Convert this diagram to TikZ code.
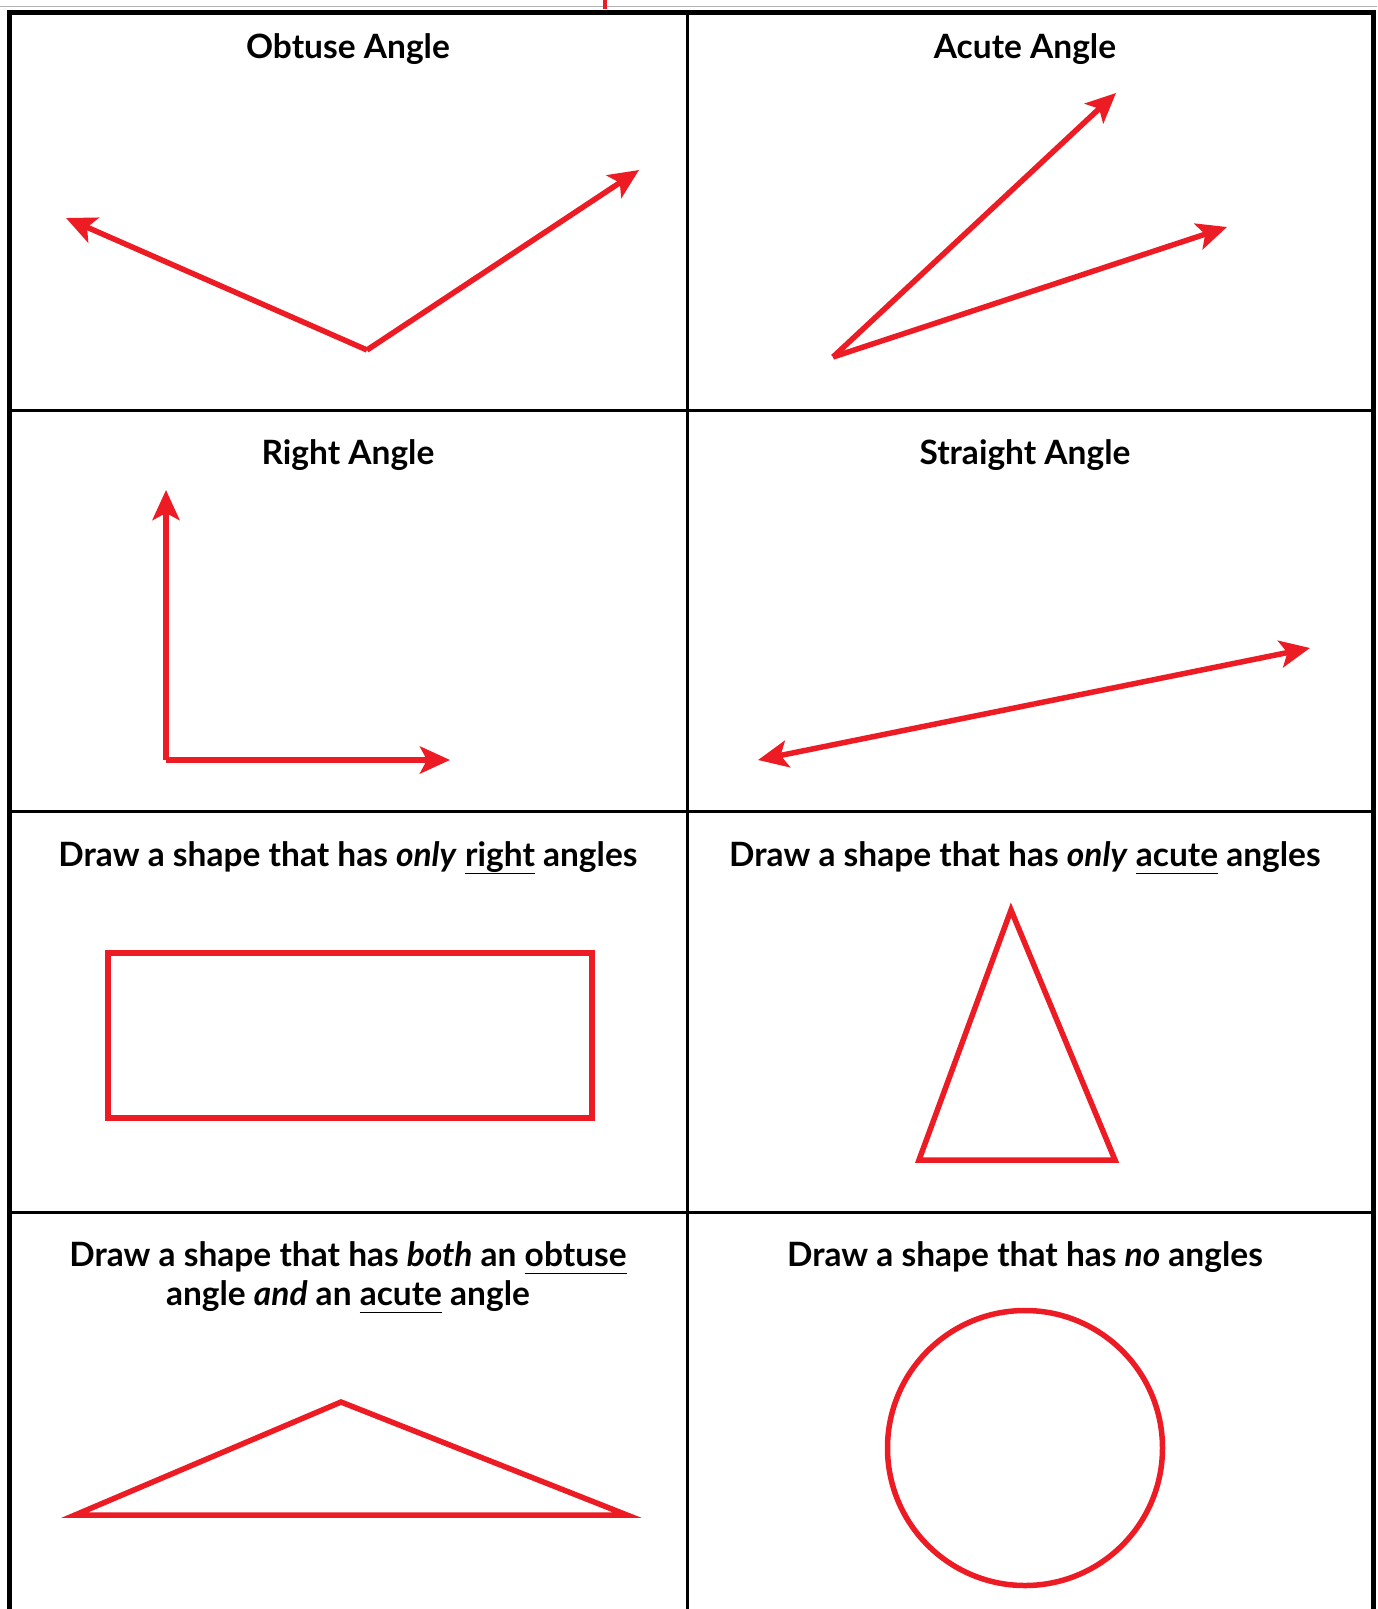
\documentclass[tikz,border=0pt]{standalone}
\usepackage{fontspec}
\setmainfont{Lato}[BoldFont={* Bold}]
\usetikzlibrary{arrows.meta}
\definecolor{angred}{HTML}{ED1C24}
\newcommand\myul[1]{\underline{\smash{#1}\vphantom{g}}}
\begin{document}
\begin{tikzpicture}[x=1pt,y=-1pt,
  grid/.style={black,line width=3pt},
  frame/.style={black,line width=5pt},
  redline/.style={angred,line width=5.5pt,line join=miter},
  arr/.style={redline,-{Stealth[length=30pt,width=27pt,inset=7pt]}},
  title/.style={font=\fontsize{33.5}{39}\selectfont\bfseries,align=center,anchor=base}]
\useasboundingbox (0,0) rectangle (1377,1609);
\fill[white] (0,0) rectangle (1377,1609);
% top faint line and red tick
\draw[gray!60,line width=1pt] (0,6) -- (1377,6);
\draw[angred,line width=4pt] (605,0) -- (605,9);
% grid
\draw[grid] (687,12) -- (687,1609);
\draw[grid] (9,410) -- (1373,410);
\draw[grid] (9,811) -- (1373,811);
\draw[grid] (9,1212) -- (1373,1212);
\draw[frame] (9,1609) -- (9,12) -- (1373,12) -- (1373,1609);
% titles
\node[title] (t1) at (348,58) {Obtuse Angle};
\node[title] (t2) at (1025,58) {Acute Angle};
\node[title] (t3) at (348,464) {Right Angle};
\node[title] (t4) at (1025,464) {Straight Angle};
\node[title] (t5) at (348,866) {Draw a shape that has \textit{only} \myul{right} angles};
\node[title] (t6) at (1025,866) {Draw a shape that has \textit{only} \myul{acute} angles};
\node[title] (t7) at (348,1305) {Draw a shape that has \textit{both} an \myul{obtuse}\\angle \textit{and} an \myul{acute} angle};
\node[title] (t8) at (1025,1266) {Draw a shape that has \textit{no} angles};
% obtuse angle
\coordinate (ov) at (367,350);
\coordinate (ol) at (66,218);
\coordinate (or) at (639,170);
\draw[arr] (ov) -- (ol);
\draw[arr] (ov) -- (or);
% acute angle
\coordinate (av) at (833,357);
\coordinate (au) at (1116,93);
\coordinate (al) at (1227,227);
\draw[arr] (av) -- (au);
\draw[arr] (av) -- (al);
% right angle
\coordinate (rv) at (166,760);
\coordinate (ru) at (166,490);
\coordinate (rr) at (450,760);
\draw[arr] (rv) -- (ru);
\draw[arr] (rv) -- (rr);
% straight angle
\coordinate (sm) at (1034,704);
\coordinate (sl) at (758,760);
\coordinate (sr) at (1310,648);
\draw[arr] (sm) -- (sl);
\draw[arr] (sm) -- (sr);
% rectangle
\draw[redline] (108,953) rectangle (592,1118);
% acute triangle
\draw[redline] (1011,910) -- (919,1160) -- (1115,1160) -- cycle;
% obtuse triangle
\draw[redline] (75,1515) -- (341,1402) -- (627,1515) -- cycle;
% circle
\node[draw=angred,line width=5.5pt,circle,minimum size=275pt,inner sep=0pt] (c) at (1025,1448) {};
\end{tikzpicture}
\end{document}
